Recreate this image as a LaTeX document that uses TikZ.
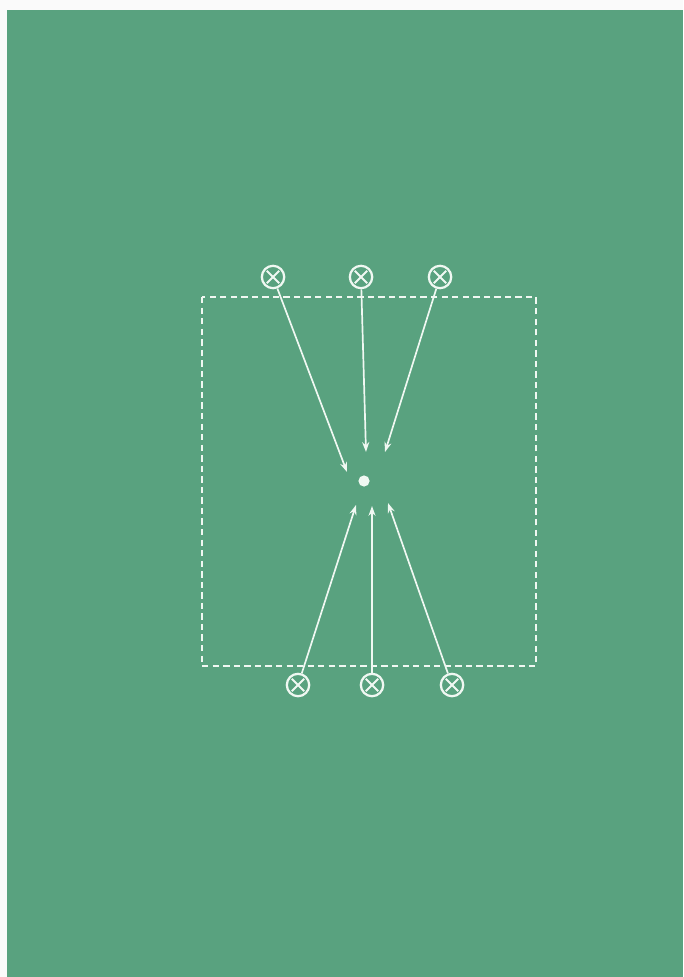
\documentclass[tikz,border=0pt]{standalone}
\usetikzlibrary{arrows.meta,calc}
\definecolor{boardgreen}{RGB}{89,162,127}
\definecolor{chalk}{RGB}{240,248,242}
\tikzset{
  >={Stealth[length=7pt,width=5pt]},   % global arrow tip
  player/.style={circle, draw=chalk, line width=1.6pt, minimum size=0.56cm, inner sep=0pt,
    path picture={
      \draw[chalk, line width=1.3pt]
        ($(path picture bounding box.center)+(45:0.22cm)$) -- ($(path picture bounding box.center)+(225:0.22cm)$)
        ($(path picture bounding box.center)+(135:0.22cm)$) -- ($(path picture bounding box.center)+(315:0.22cm)$);
    }},
  pass/.style={->, chalk, line width=1.2pt},
  zone/.style={chalk, line width=1.2pt, dash pattern=on 4.5pt off 3pt}
}

\begin{document}
\begin{tikzpicture}[x=0.025cm, y=-0.025cm]

% page and board
\useasboundingbox (0,0) rectangle (683,977);
\fill[white!96!gray] (0,0) rectangle (683,977);
\fill[boardgreen] (7,10) rectangle (683,977);

% zone
\draw[zone] (202,297) rectangle (536,666);

% ball
\node[circle, fill=chalk, minimum size=0.28cm, inner sep=0pt] (ball) at (364,481) {};

% players top
\node[player] (nt1) at (273,277) {};
\node[player] (nt2) at (361,277) {};
\node[player] (nt3) at (440,277) {};

% players bottom
\node[player] (nb1) at (298,685) {};
\node[player] (nb2) at (372,685) {};
\node[player] (nb3) at (452,685) {};

% arrow ends near the ball
\coordinate (et1) at (347,472);
\coordinate (et2) at (366,452);
\coordinate (et3) at (385,452);
\coordinate (eb1) at (356,505);
\coordinate (eb2) at (372,506);
\coordinate (eb3) at (388,503);

% runs to the ball
\draw[pass] (nt1) -- (et1);
\draw[pass] (nt2) -- (et2);
\draw[pass] (nt3) -- (et3);
\draw[pass] (nb1) -- (eb1);
\draw[pass] (nb2) -- (eb2);
\draw[pass] (nb3) -- (eb3);

\end{tikzpicture}
\end{document}
